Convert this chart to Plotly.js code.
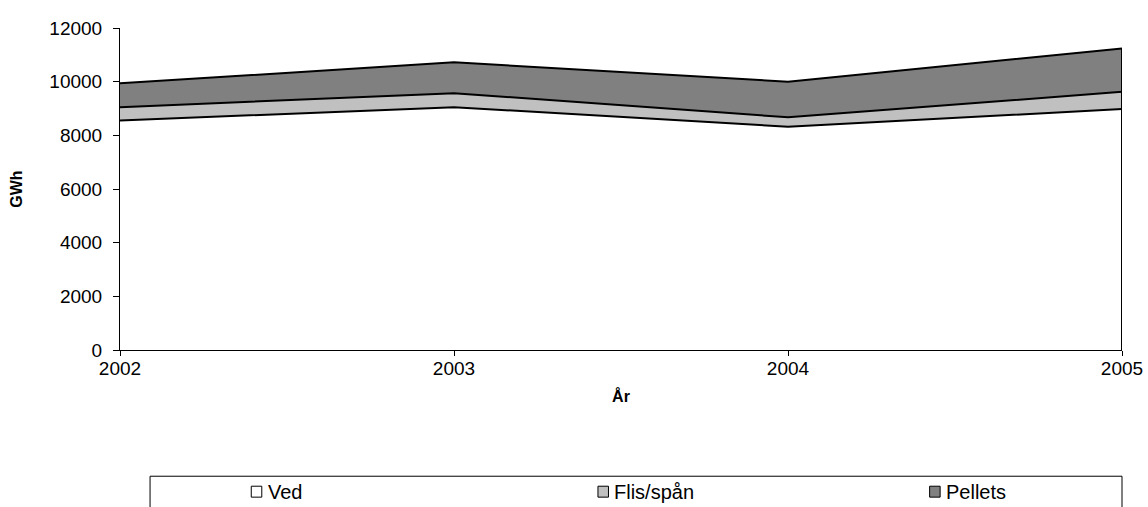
<!DOCTYPE html>
<html>
<head>
<meta charset="utf-8">
<script src="https://cdn.plot.ly/plotly-3.0.1.min.js"></script>
<style>
  html, body { margin: 0; padding: 0; background: #fff; }
  #chart { width: 1148px; height: 507px; }
</style>
</head>
<body>
<div id="chart"></div>
<script>
// Years and energy use per fuel type (GWh), stacked
const years = [2002, 2003, 2004, 2005];
const ved = [8550, 9050, 8320, 8980];
const flisSpan = [500, 520, 350, 640];
const pellets = [890, 1150, 1330, 1620];

const seriesNames = ['Ved', 'Flis/spån', 'Pellets'];
const seriesColors = ['#FFFFFF', '#C0C0C0', '#808080'];
const seriesValues = [ved, flisSpan, pellets];

const yTicks = [0, 2000, 4000, 6000, 8000, 10000, 12000];

const traces = seriesValues.map((vals, i) => ({
  type: 'scatter',
  mode: 'lines',
  x: years,
  y: vals,
  name: seriesNames[i],
  stackgroup: 'bio',
  fillcolor: seriesColors[i],
  line: { color: '#000000', width: 2 },
  hoverinfo: 'x+y+name'
}));

// closing edge of the stacked area at the last year
const last = years.length - 1;
const totalLast = seriesValues.reduce((s, v) => s + v[last], 0);
traces.push({
  type: 'scatter',
  mode: 'lines',
  x: [years[last], years[last]],
  y: [0, totalLast],
  line: { color: '#000000', width: 2 },
  showlegend: false,
  hoverinfo: 'skip'
});

const font = 'Arial, "Liberation Sans", sans-serif';

// legend drawn as a framed row of swatches and labels below the plot
const legendSwatchX = [0.131, 0.477, 0.808];
const legendY = -0.44;
const shapes = [{
  type: 'rect', xref: 'paper', yref: 'paper',
  x0: 0.03, x1: 1.0, y0: -0.56, y1: -0.392,
  line: { color: '#000000', width: 1 }, fillcolor: 'rgba(0,0,0,0)'
}];
const annotations = [];
seriesNames.forEach((name, i) => {
  shapes.push({
    type: 'rect', xref: 'paper', yref: 'paper',
    x0: legendSwatchX[i], x1: legendSwatchX[i] + 0.0105,
    y0: legendY - 0.017, y1: legendY + 0.017,
    line: { color: '#000000', width: 1 }, fillcolor: seriesColors[i]
  });
  annotations.push({
    xref: 'paper', yref: 'paper',
    x: legendSwatchX[i] + 0.0145, y: legendY,
    xanchor: 'left', yanchor: 'middle',
    text: name, showarrow: false,
    font: { family: font, size: 20, color: '#000000' }
  });
});

const layout = {
  width: 1148,
  height: 507,
  paper_bgcolor: '#FFFFFF',
  plot_bgcolor: '#FFFFFF',
  margin: { l: 120, r: 26, t: 28, b: 157 },
  showlegend: false,
  font: { family: font, color: '#000000' },
  xaxis: {
    range: [years[0], years[last]],
    tickvals: years,
    ticktext: years.map(String),
    showgrid: false,
    zeroline: false,
    showline: true,
    linecolor: '#000000',
    linewidth: 1,
    ticks: 'outside',
    ticklen: 5,
    ticklabelstandoff: -4,
    tickcolor: '#000000',
    tickfont: { family: font, size: 19, color: '#000000' },
    title: { text: '<b>År</b>', font: { family: font, size: 16, color: '#000000' }, standoff: 13 }
  },
  yaxis: {
    range: [0, 12000],
    tickvals: yTicks,
    ticktext: yTicks.map(String),
    showgrid: false,
    zeroline: false,
    showline: true,
    linecolor: '#000000',
    linewidth: 1,
    ticks: 'outside',
    ticklen: 6,
    ticklabelstandoff: 7,
    tickcolor: '#000000',
    tickfont: { family: font, size: 19, color: '#000000' },
    title: { text: '<b>GWh</b>', font: { family: font, size: 16, color: '#000000' }, standoff: 22 }
  },
  shapes: shapes,
  annotations: annotations
};

Plotly.newPlot('chart', traces, layout, { displayModeBar: false, staticPlot: true });
</script>
</body>
</html>
